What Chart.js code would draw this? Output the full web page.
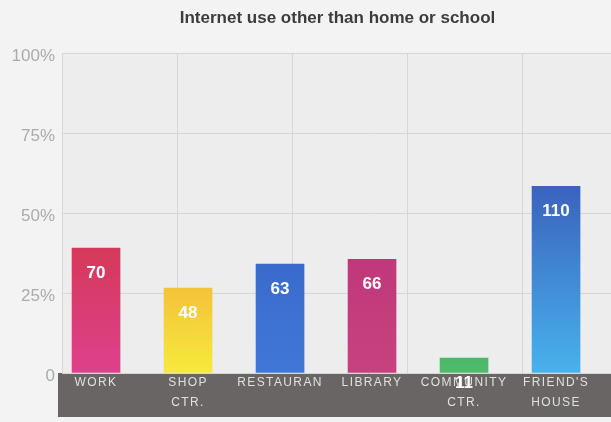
<!DOCTYPE html>
<html>
<head>
<meta charset="utf-8">
<script src="https://cdn.jsdelivr.net/npm/chart.js@4/dist/chart.umd.min.js"></script>
<style>
  html, body { margin: 0; padding: 0; background: #f3f3f3; overflow: hidden; width: 611px; height: 422px; }
  #wrap { width: 680px; height: 422px; }
</style>
</head>
<body>
<div id="wrap"><canvas id="c" width="680" height="422"></canvas></div>
<script>
// ---- data ----
const categories = [["WORK"], ["SHOP", "CTR."], ["RESTAURAN"], ["LIBRARY"], ["COMMUNITY", "CTR."], ["FRIEND'S", "HOUSE"]];
const percentValues = [39.1, 26.6, 34.1, 35.6, 4.7, 58.4];
const countLabels = [70, 48, 63, 66, 11, 110];
const yTickValues = [0, 25, 50, 75, 100];
const yTickLabels = ["0", "25%", "50%", "75%", "100%"];
const chartTitle = "Internet use other than home or school";

// ---- styles ----
const barGradients = [
  ["#d5395a", "#de418c"],
  ["#f4c23a", "#f6ea3c"],
  ["#3a6bcc", "#4177d8"],
  ["#c0387a", "#c8417f"],
  ["#4bb86a", "#4fbb6d"],
  ["#3b62bd", "#48b2ec"]
];

const bgPlugin = {
  id: 'bg',
  beforeDraw(chart) {
    const { ctx, chartArea: a } = chart;
    ctx.save();
    ctx.fillStyle = '#f3f3f3';
    ctx.fillRect(0, 0, chart.width, chart.height);
    ctx.fillStyle = '#ededed';
    ctx.fillRect(a.left, a.top, a.right - a.left, a.bottom - a.top);
    ctx.fillStyle = '#686564';
    ctx.fillRect(a.left - 4, a.bottom, chart.width, 44);
    ctx.restore();
  },
  afterLayout(chart) {
    const s = chart.scales.x;
    if (s && !s._ls) {
      const orig = s.drawLabels;
      s.drawLabels = function (area) {
        this.ctx.save();
        this.ctx.letterSpacing = '1.4px';
        orig.call(this, area);
        this.ctx.restore();
      };
      s._ls = true;
    }
  }
};

const valuePlugin = {
  id: 'values',
  afterDatasetsDraw(chart) {
    const { ctx } = chart;
    const meta = chart.getDatasetMeta(0);
    ctx.save();
    ctx.fillStyle = '#ffffff';
    ctx.font = 'bold 17px "Liberation Sans", Arial, sans-serif';
    ctx.textAlign = 'center';
    ctx.textBaseline = 'middle';
    meta.data.forEach((el, i) => {
      ctx.fillText(String(countLabels[i]), el.x, el.y + 25);
    });
    ctx.restore();
  }
};

new Chart(document.getElementById('c'), {
  type: 'bar',
  data: {
    datasets: [{
      data: percentValues.map((v, i) => ({ x: i, y: v })),
      barThickness: 48,
      borderWidth: 0,
      backgroundColor(ctx) {
        const chart = ctx.chart;
        const a = chart.chartArea;
        const i = ctx.dataIndex;
        if (!a || i === undefined) return barGradients[0][0];
        const top = chart.scales.y.getPixelForValue(percentValues[i]);
        const g = chart.ctx.createLinearGradient(0, top, 0, a.bottom);
        g.addColorStop(0, barGradients[i][0]);
        g.addColorStop(1, barGradients[i][1]);
        return g;
      }
    }]
  },
  options: {
    responsive: false,
    devicePixelRatio: 1,
    animation: false,
    layout: { padding: { left: 0, right: 5, top: 0, bottom: 5 } },
    plugins: {
      legend: { display: false },
      tooltip: { enabled: false },
      title: {
        display: true,
        text: chartTitle,
        color: '#3c3c3c',
        font: { family: '"Liberation Sans", Arial, sans-serif', size: 17, weight: 'bold', lineHeight: 1.2 },
        padding: { top: 8, bottom: 25 }
      }
    },
    scales: {
      x: {
        type: 'linear',
        position: 'bottom',
        offset: false,
        min: -0.370,
        max: 6.293,
        grid: { display: false, drawTicks: false, tickLength: 0, offset: false },
        border: { display: false },
        afterBuildTicks(scale) { scale.ticks = categories.map((_, i) => ({ value: i })); },
        afterFit(scale) { scale.height = 44; },
        ticks: {
          autoSkip: false,
          maxRotation: 0,
          padding: 0,
          color: '#e0e0e0',
          font: { family: '"Liberation Sans", Arial, sans-serif', size: 12, lineHeight: 1.667 },
          callback: (v) => categories[v]
        }
      },
      x2: {
        type: 'linear',
        position: 'bottom',
        offset: false,
        min: 0,
        max: 5.32,
        afterFit(scale) { scale.height = 0; },
        ticks: { display: false, stepSize: 1 },
        grid: { color: '#d6d6d6', lineWidth: 1, drawTicks: false, tickLength: 0, offset: false },
        border: { display: false }
      },
      y: {
        min: 0,
        max: 100,
        afterBuildTicks(scale) { scale.ticks = yTickValues.map(v => ({ value: v })); },
        afterFit(scale) { scale.width = 62; },
        grid: { color: '#d6d6d6', lineWidth: 1, drawTicks: false, tickLength: 0 },
        border: { display: false },
        ticks: {
          padding: 7,
          labelOffset: 3,
          color: '#ababab',
          font: { family: '"Liberation Sans", Arial, sans-serif', size: 17 },
          callback: (v) => yTickLabels[yTickValues.indexOf(v)]
        }
      }
    }
  },
  plugins: [bgPlugin, valuePlugin]
});
</script>
</body>
</html>
